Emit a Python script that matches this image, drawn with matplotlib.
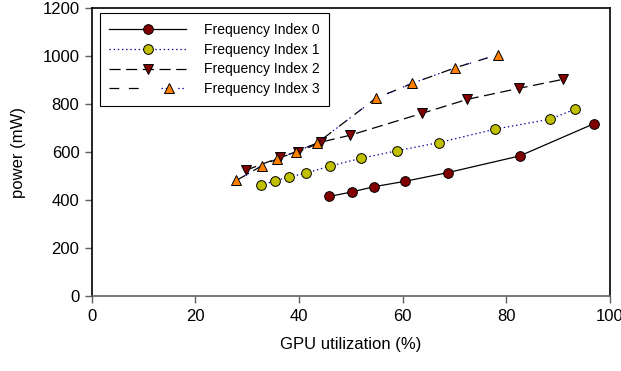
import matplotlib
matplotlib.use("Agg")
import matplotlib.pyplot as plt
from matplotlib.legend_handler import HandlerTuple

plt.rcParams['font.family'] = ['Liberation Sans', 'DejaVu Sans']
plt.rcParams['lines.scale_dashes'] = False

# GPU utilization (%) and power (mW) for each frequency index
util_0 = [45.8, 50.2, 54.5, 60.4, 68.8, 82.6, 96.9]
power_0 = [415, 434, 456, 478, 515, 584, 718]

util_1 = [32.6, 35.3, 38.0, 41.4, 46.0, 51.9, 59.0, 67.1, 77.9, 88.4, 93.2]
power_1 = [461, 480, 496, 513, 542, 574, 606, 640, 696, 737, 778]

util_2 = [29.7, 36.3, 39.8, 44.3, 49.8, 63.8, 72.5, 82.5, 90.9]
power_2 = [524, 578, 600, 642, 670, 762, 820, 866, 903]

util_3 = [27.9, 32.9, 35.8, 39.4, 43.5, 54.8, 61.8, 70.2, 78.4]
power_3 = [482, 544, 572, 602, 638, 824, 886, 952, 1006]

labels = ["Frequency Index 0", "Frequency Index 1", "Frequency Index 2", "Frequency Index 3"]

fig = plt.figure(figsize=(6.21, 3.71), dpi=100)
ax = fig.add_axes([0.148, 0.202, 0.834, 0.776])

mk = dict(markersize=7, markeredgecolor='black', markeredgewidth=0.7)

l0, = ax.plot(util_0, power_0, color='black', lw=0.9, marker='o',
              markerfacecolor='#800000', **mk)
l1, = ax.plot(util_1, power_1, color='#0000a0', lw=0.9, linestyle=(0, (1, 2)), marker='o',
              markerfacecolor='#c0c000', **mk)
l2, = ax.plot(util_2, power_2, color='black', lw=0.9, linestyle=(0, (8, 4)), marker='v',
              markerfacecolor='#800000', **mk)
# dash-dot-dot: black dashes with blue dots between them
l3a, = ax.plot(util_3, power_3, color='black', lw=0.9, linestyle=(0, (7, 7)), zorder=2)
l3b, = ax.plot(util_3, power_3, color='#0000a0', lw=0.9, linestyle=(5.5, (1, 2, 1, 8)),
               marker='^', markerfacecolor='#ff8000', zorder=3, **mk)

ax.set_xlim(0, 100)
ax.set_ylim(0, 1200)
ax.set_xticks(range(0, 101, 20))
ax.set_yticks(range(0, 1201, 200))
ax.tick_params(direction='out', length=5, width=1, color='#606060', labelsize=12, pad=4)
for name, sp in ax.spines.items():
    sp.set_color('#606060' if name == 'bottom' else 'black')
    sp.set_linewidth(1.2)
ax.set_xlabel("GPU utilization (%)", fontsize=12, labelpad=10)
ax.set_ylabel("power (mW)", fontsize=12, labelpad=12)

leg = ax.legend([l0, l1, l2, (l3a, l3b)], labels,
                handler_map={tuple: HandlerTuple(ndivide=None)},
                loc='upper left', bbox_to_anchor=(0.015, 0.983), borderaxespad=0,
                fontsize=10, handlelength=5.5, labelspacing=0.42, fancybox=False,
                edgecolor='black', framealpha=1, borderpad=0.7, handletextpad=1.3)
leg.get_frame().set_linewidth(0.8)

fig.savefig("out.png", dpi=100)
